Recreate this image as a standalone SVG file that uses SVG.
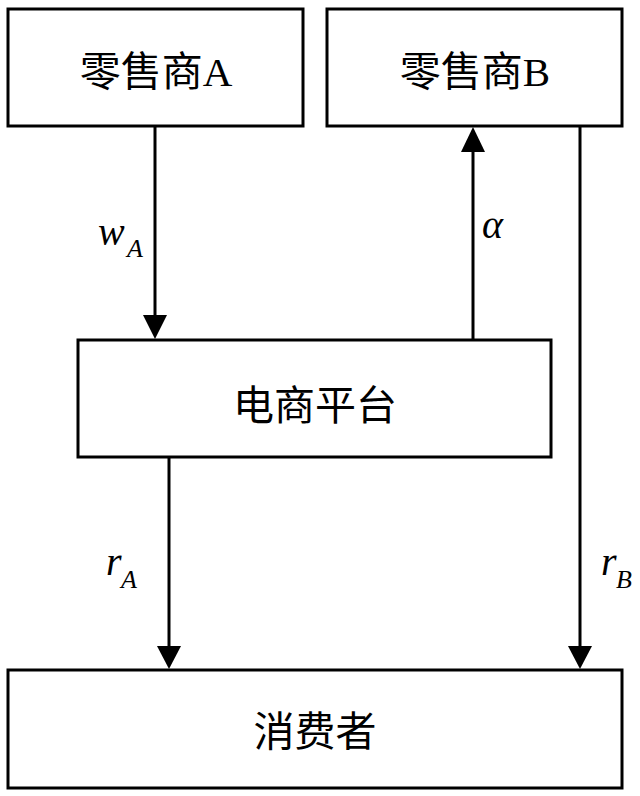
<svg xmlns="http://www.w3.org/2000/svg" width="640" height="796" viewBox="0 0 640 796">
<style>
.box{fill:#fff;stroke:#000;stroke-width:3}
.lbl{font-family:"Liberation Serif","Noto Sans CJK SC",serif;font-size:41px;fill:#000;text-anchor:middle}
.line{stroke:#000;stroke-width:3;fill:none}
.head{fill:#000}
.m{font-family:"Liberation Serif",serif;font-style:italic;fill:#000}
</style>
<rect width="640" height="796" fill="#fff"/>
<g id="retailerA">
<rect class="box" x="8" y="9" width="295" height="117"/>
<text class="lbl" x="156" y="86">零售商A</text>
</g>
<g id="retailerB">
<rect class="box" x="327" y="9" width="295" height="117"/>
<text class="lbl" x="475" y="86">零售商B</text>
</g>
<g id="platform">
<rect class="box" x="78" y="340" width="473" height="117"/>
<text class="lbl" x="315" y="420">电商平台</text>
</g>
<g id="consumer">
<rect class="box" x="8" y="670" width="614" height="118"/>
<text class="lbl" x="315" y="746">消费者</text>
</g>
<g id="connectors">
<line class="line" x1="155" y1="126" x2="155" y2="318"/>
<polygon class="head" points="143,315 167,315 155,339"/>
<line class="line" x1="473" y1="340" x2="473" y2="149"/>
<polygon class="head" points="461,152 485,152 473,127"/>
<line class="line" x1="169" y1="457" x2="169" y2="649"/>
<polygon class="head" points="157,646 181,646 169,669"/>
<line class="line" x1="580" y1="126" x2="580" y2="649"/>
<polygon class="head" points="568,646 592,646 580,669"/>
<text class="m" x="98" y="245" font-size="40">w</text>
<text class="m" x="127" y="257" font-size="26">A</text>
<text class="m" x="482" y="238" font-size="40">α</text>
<text class="m" x="106" y="575" font-size="40">r</text>
<text class="m" x="121" y="588" font-size="26">A</text>
<text class="m" x="601" y="575" font-size="40">r</text>
<text class="m" x="616" y="588" font-size="26">B</text>
</g>
</svg>
